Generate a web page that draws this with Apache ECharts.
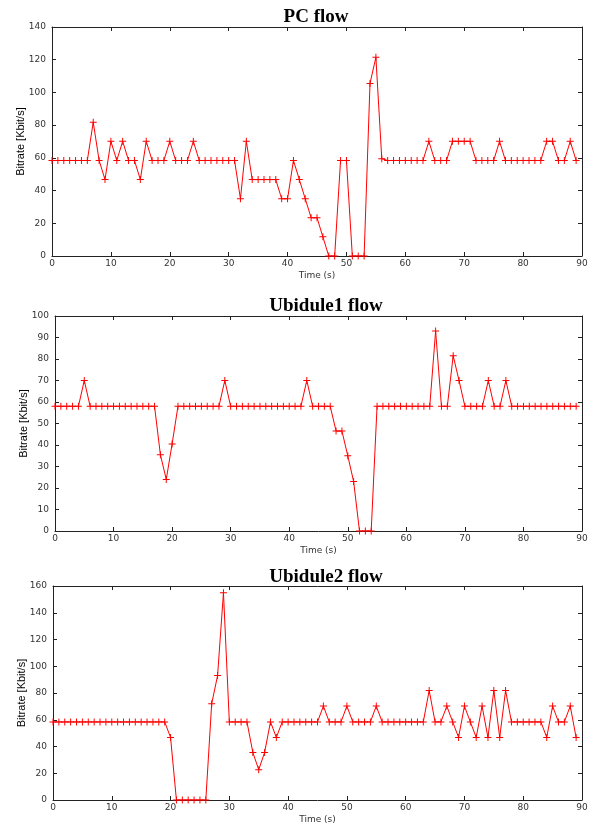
<!DOCTYPE html>
<html>
<head>
<meta charset="utf-8">
<script src="https://cdn.jsdelivr.net/npm/echarts@6/dist/echarts.min.js"></script>
<style>
  html, body { margin: 0; padding: 0; background: #fff; }
  #chart { width: 596px; height: 825px; }
</style>
</head>
<body>
<div id="chart"></div>
<script>
// bitrate per second (Kbit/s), t = 0..89
var pcFlow = [
  58.4, 58.4, 58.4, 58.4, 58.4, 58.4, 58.4, 81.8, 58.4, 46.7,
  70.1, 58.4, 70.1, 58.4, 58.4, 46.7, 70.1, 58.4, 58.4, 58.4,
  70.1, 58.4, 58.4, 58.4, 70.1, 58.4, 58.4, 58.4, 58.4, 58.4,
  58.4, 58.4, 35.0, 70.1, 46.7, 46.7, 46.7, 46.7, 46.7, 35.0,
  35.0, 58.4, 46.7, 35.0, 23.4, 23.4, 11.7, 0, 0, 58.4,
  58.4, 0, 0, 0, 105.5, 121.5, 59.5, 58.4, 58.4, 58.4,
  58.4, 58.4, 58.4, 58.4, 70.1, 58.4, 58.4, 58.4, 70.1, 70.1,
  70.1, 70.1, 58.4, 58.4, 58.4, 58.4, 70.1, 58.4, 58.4, 58.4,
  58.4, 58.4, 58.4, 58.4, 70.1, 70.1, 58.4, 58.4, 70.1, 58.4
];
var ubidule1Flow = [
  58, 58, 58, 58, 58, 70, 58, 58, 58, 58,
  58, 58, 58, 58, 58, 58, 58, 58, 35.5, 24,
  40.5, 58, 58, 58, 58, 58, 58, 58, 58, 70,
  58, 58, 58, 58, 58, 58, 58, 58, 58, 58,
  58, 58, 58, 70, 58, 58, 58, 58, 46.5, 46.5,
  35, 23, 0, 0, 0, 58, 58, 58, 58, 58,
  58, 58, 58, 58, 58, 93, 58, 58, 81.5, 70,
  58, 58, 58, 58, 70, 58, 58, 70, 58, 58,
  58, 58, 58, 58, 58, 58, 58, 58, 58, 58
];
var ubidule2Flow = [
  58.4, 58.4, 58.4, 58.4, 58.4, 58.4, 58.4, 58.4, 58.4, 58.4,
  58.4, 58.4, 58.4, 58.4, 58.4, 58.4, 58.4, 58.4, 58.4, 58.4,
  46.8, 0, 0, 0, 0, 0, 0, 72, 93, 155,
  58.4, 58.4, 58.4, 58.4, 35.5, 22.7, 35.5, 58.4, 46.8, 58.4,
  58.4, 58.4, 58.4, 58.4, 58.4, 58.4, 70.2, 58.4, 58.4, 58.4,
  70.2, 58.4, 58.4, 58.4, 58.4, 70.2, 58.4, 58.4, 58.4, 58.4,
  58.4, 58.4, 58.4, 58.4, 81.9, 58.4, 58.4, 70.2, 58.4, 46.8,
  70.2, 58.4, 46.8, 70.2, 46.8, 81.9, 46.8, 81.9, 58.4, 58.4,
  58.4, 58.4, 58.4, 58.4, 46.8, 70.2, 58.4, 58.4, 70.2, 46.8
];
var titles = ['PC flow', 'Ubidule1 flow', 'Ubidule2 flow'];
var yMax = [140, 100, 160];
var yStep = [20, 10, 20];
var xMax = 90;
var xStep = 10;

var grids = [
  { left: 52, top: 27, width: 530, height: 229 },
  { left: 55, top: 316, width: 527, height: 215 },
  { left: 53, top: 586, width: 529, height: 216 }
];
var titleTops = [3, 292, 563];
var titleX = [311, 321, 321];

var plus = 'path://M0.43,0 H0.57 V0.43 H1 V0.57 H0.57 V1 H0.43 V0.57 H0 V0.43 H0.43 Z';
var labelFont = { fontFamily: 'DejaVu Sans', fontSize: 9, color: '#333' };
var frameLine = { show: true, onZero: false, lineStyle: { color: '#222', width: 1 } };
var tick = { show: true, inside: true, length: 4, lineStyle: { color: '#222' } };

var flows = [pcFlow, ubidule1Flow, ubidule2Flow];
var xAxes = [], yAxes = [], series = [], titleOpts = [];

flows.forEach(function (flow, g) {
  titleOpts.push({
    text: titles[g], left: titleX[g], top: titleTops[g], textAlign: 'center',
    textStyle: { fontFamily: 'Liberation Serif', fontWeight: 'bold', fontSize: 19, color: '#000' }
  });
  xAxes.push({
    type: 'value', gridIndex: g, min: 0, max: xMax, interval: xStep,
    name: 'Time (s)', nameLocation: 'middle', nameGap: 15,
    nameTextStyle: { fontFamily: 'DejaVu Sans', fontSize: 9, color: '#333' },
    axisLine: frameLine, axisTick: tick, splitLine: { show: false },
    axisLabel: Object.assign({ margin: 3 }, labelFont)
  });
  xAxes.push({
    type: 'value', gridIndex: g, position: 'top', min: 0, max: xMax, interval: xStep,
    axisLine: frameLine, axisTick: tick, splitLine: { show: false },
    axisLabel: { show: false }
  });
  yAxes.push({
    type: 'value', gridIndex: g, min: 0, max: yMax[g], interval: yStep[g],
    name: 'Bitrate [Kbit/s]', nameLocation: 'middle', nameGap: 26, nameMoveOverlap: false,
    nameTextStyle: { fontFamily: 'Liberation Sans Narrow, Liberation Sans', fontSize: 11, color: '#000' },
    axisLine: frameLine, axisTick: tick, splitLine: { show: false },
    axisLabel: Object.assign({ margin: 6 }, labelFont)
  });
  yAxes.push({
    type: 'value', gridIndex: g, position: 'right', min: 0, max: yMax[g], interval: yStep[g],
    axisLine: frameLine, axisTick: tick, splitLine: { show: false },
    axisLabel: { show: false }
  });
  series.push({
    type: 'line', xAxisIndex: g * 2, yAxisIndex: g * 2,
    data: flow.map(function (v, i) { return [i, v]; }),
    symbol: plus, symbolSize: 7, showSymbol: true, animation: false,
    lineStyle: { color: '#ff0000', width: 1 },
    itemStyle: { color: '#ff0000' }
  });
});

var chart = echarts.init(document.getElementById('chart'));
chart.setOption({
  backgroundColor: '#fff',
  animation: false,
  title: titleOpts,
  grid: grids,
  xAxis: xAxes,
  yAxis: yAxes,
  series: series
});
</script>
</body>
</html>
